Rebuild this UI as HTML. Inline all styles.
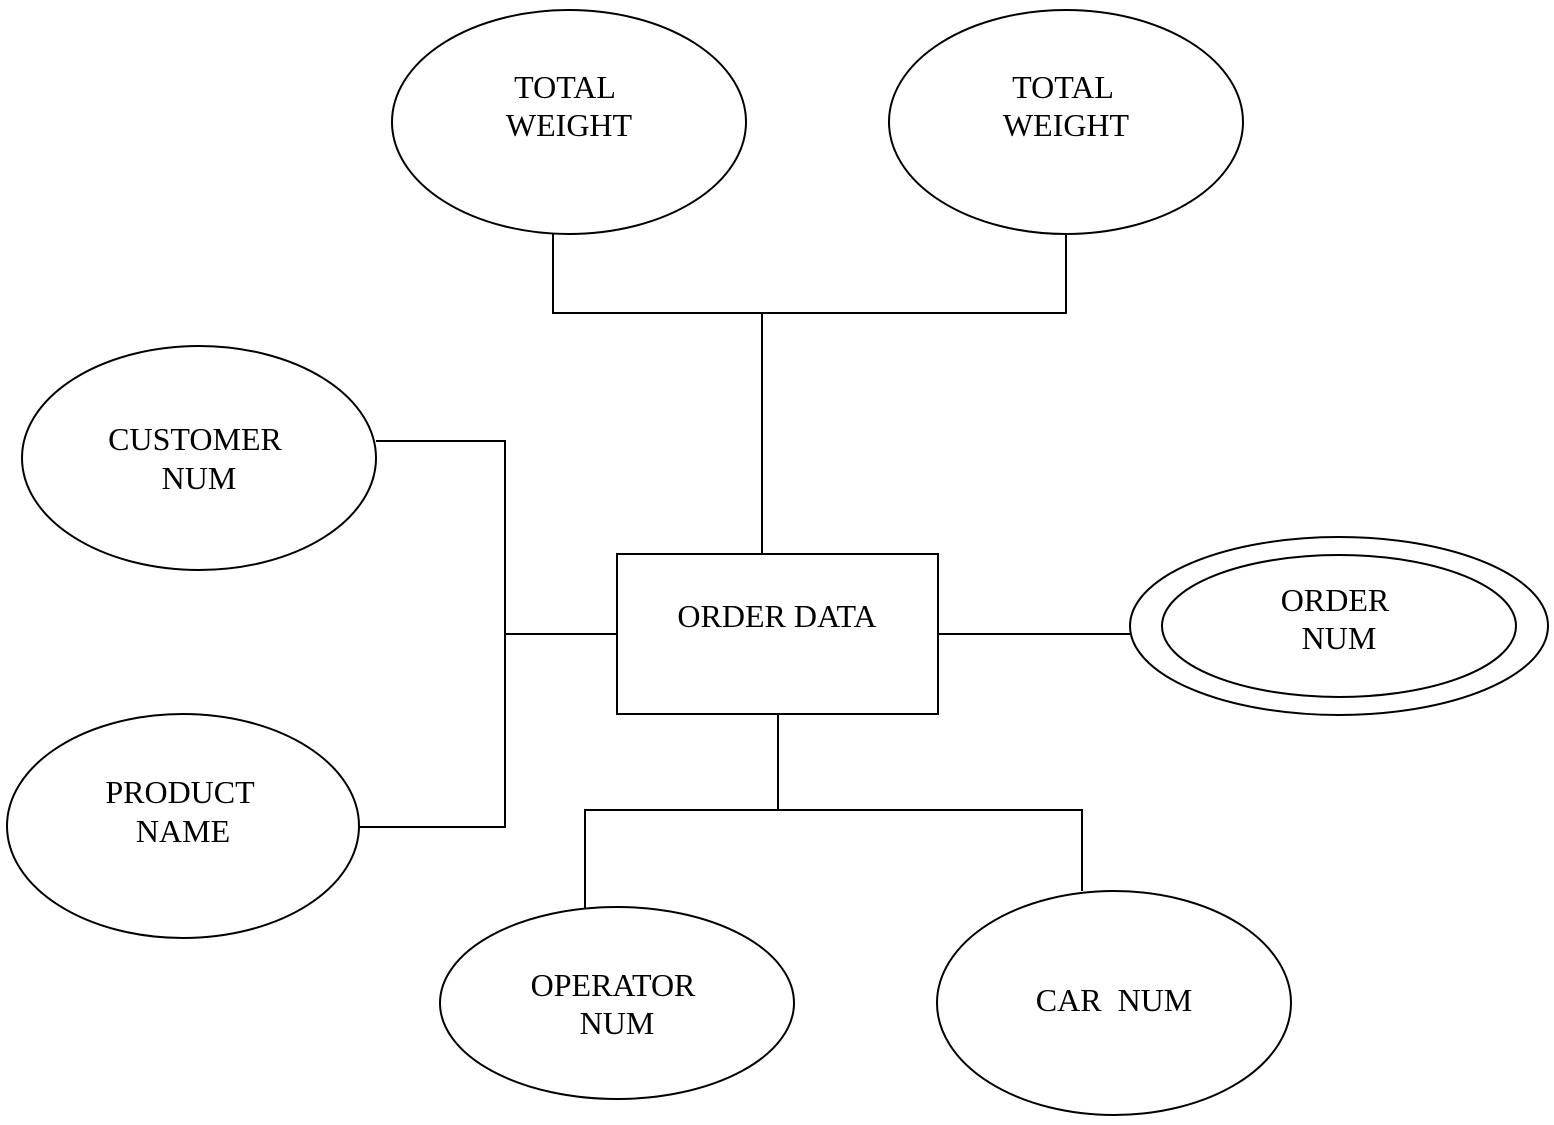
<!DOCTYPE html>
<html><head><meta charset="utf-8"><style>
html,body{margin:0;padding:0;background:#fff;}
svg{display:block;}
text{font-family:"Liberation Serif",serif;font-size:32px;fill:#000;text-anchor:middle;}
</style></head><body>
<svg width="1554" height="1125" viewBox="0 0 1554 1125" xmlns="http://www.w3.org/2000/svg">
<g fill="none" stroke="#000" stroke-width="2">
<ellipse cx="569" cy="122" rx="177" ry="112"/>
<ellipse cx="1066" cy="122" rx="177" ry="112"/>
<ellipse cx="199" cy="458" rx="177" ry="112"/>
<ellipse cx="183" cy="826" rx="176" ry="112"/>
<ellipse cx="617" cy="1003" rx="177" ry="96"/>
<ellipse cx="1114" cy="1003" rx="177" ry="112"/>
<ellipse cx="1339" cy="626" rx="209" ry="89"/>
<ellipse cx="1339" cy="626" rx="177" ry="71"/>
<rect x="617" y="554" width="321" height="160"/>
<polyline points="553,234 553,313 1066,313 1066,234"/>
<line x1="762" y1="313" x2="762" y2="554"/>
<polyline points="376,441 505,441 505,827 359,827"/>
<line x1="505" y1="634" x2="617" y2="634"/>
<line x1="938" y1="634" x2="1130" y2="634"/>
<line x1="778" y1="714" x2="778" y2="810"/>
<polyline points="585,908 585,810 1082,810 1082,891"/>
</g>
<text x="565" y="98">TOTAL</text>
<text x="569" y="136">WEIGHT</text>
<text x="1063" y="98">TOTAL</text>
<text x="1066" y="136">WEIGHT</text>
<text x="195" y="450">CUSTOMER</text>
<text x="199" y="489">NUM</text>
<text x="180" y="803">PRODUCT</text>
<text x="183" y="842">NAME</text>
<text x="613" y="996">OPERATOR</text>
<text x="617" y="1034">NUM</text>
<text x="1114" y="1011">CAR&#160; NUM</text>
<text x="1335" y="611">ORDER</text>
<text x="1339" y="649">NUM</text>
<text x="777" y="627">ORDER DATA</text>
</svg>
</body></html>
